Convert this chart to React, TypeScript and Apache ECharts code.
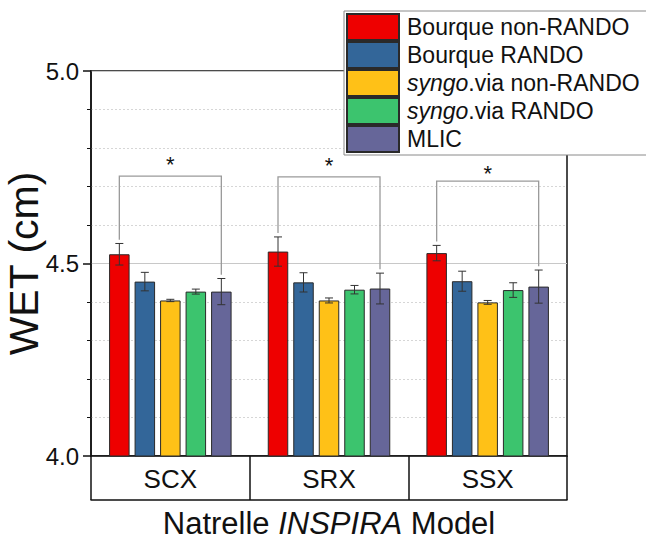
import React, { useEffect, useRef } from "react";
import * as echarts from "echarts";

const categories = ["SCX", "SRX", "SSX"];
const seriesNames = [
  "Bourque non-RANDO",
  "Bourque RANDO",
  "syngo.via non-RANDO",
  "syngo.via RANDO",
  "MLIC",
];
const bourqueNonRando = [4.524, 4.531, 4.527];
const bourqueNonRandoErr = [0.028, 0.038, 0.02];
const bourqueRando = [4.453, 4.451, 4.454];
const bourqueRandoErr = [0.024, 0.025, 0.026];
const syngoNonRando = [4.404, 4.404, 4.399];
const syngoNonRandoErr = [0.003, 0.0065, 0.005];
const syngoRando = [4.427, 4.432, 4.431];
const syngoRandoErr = [0.0065, 0.011, 0.019];
const mlic = [4.427, 4.435, 4.44];
const mlicErr = [0.034, 0.04, 0.043];
const bracketTop = [4.727, 4.725, 4.714];
const starLevel = [4.768, 4.765, 4.743];
const yTicks = [4.0, 4.5, 5.0];

const colors = ["#EE0000", "#336699", "#FFC117", "#3CC46E", "#666699"];
const FONT = "Liberation Sans, Arial, sans-serif";
const BAR_W = 20.5;
const GAP_PX = 5;
const PITCH = BAR_W + GAP_PX;
const LEG_GAP = 0.01;

export default function App() {
  const ref = useRef<HTMLDivElement>(null);
  useEffect(() => {
    if (!ref.current) return;
    const chart = echarts.init(ref.current, null, { renderer: "svg" });
    const values = [bourqueNonRando, bourqueRando, syngoNonRando, syngoRando, mlic];
    const errs = [bourqueNonRandoErr, bourqueRandoErr, syngoNonRandoErr, syngoRandoErr, mlicErr];

    const errData: number[][] = [];
    values.forEach((arr, s) =>
      arr.forEach((v, c) => errData.push([c, v, errs[s][c], s]))
    );
    const bracketData = categories.map((_, c) => [
      c,
      bracketTop[c],
      bourqueNonRando[c] + bourqueNonRandoErr[c] + LEG_GAP,
      mlic[c] + mlicErr[c] + LEG_GAP,
      starLevel[c],
    ]);

    const barSeries = seriesNames.map((name, i) => ({
      name,
      type: "bar",
      data: values[i],
      barWidth: BAR_W,
      barGap: (GAP_PX / BAR_W) * 100 + "%",
      itemStyle: { color: colors[i], borderColor: "#2a2a2a", borderWidth: 1 },
      silent: true,
      z: 2,
    }));

    chart.setOption({
      animation: false,
      backgroundColor: "#ffffff",
      textStyle: { fontFamily: FONT },
      grid: {
        left: 91,
        right: 79,
        top: 71,
        bottom: 85,
        outerBoundsMode: "none",
        containLabel: false,
        show: true,
        borderColor: "#111",
        borderWidth: 1.5,
        backgroundColor: "transparent",
      },
      legend: {
        data: seriesNames,
        orient: "vertical",
        left: 344,
        top: 11,
        padding: [2, 8, 2, 2],
        itemGap: 0,
        itemWidth: 52,
        itemHeight: 26,
        icon: "rect",
        backgroundColor: "#ffffff",
        borderColor: "#8a8a8a",
        borderWidth: 1,
        borderRadius: 0,
        z: 10,
        selectedMode: false,
        formatter: (name: string) =>
          name.startsWith("syngo") ? "{i|syngo}" + name.slice(5) : name,
        textStyle: {
          fontFamily: FONT,
          fontSize: 23,
          color: "#111",
          lineHeight: 26,
          padding: [0, 0, 0, 3],
          rich: {
            i: { fontFamily: FONT, fontSize: 23, fontStyle: "italic", color: "#111", lineHeight: 26 },
          },
        },
      },
      xAxis: [
        {
          type: "category",
          data: categories,
          position: "bottom",
          axisLine: { show: true, lineStyle: { color: "#111", width: 1.5 } },
          axisTick: {
            show: true,
            interval: 0,
            alignWithLabel: false,
            length: 44,
            lineStyle: { color: "#111", width: 1.5 },
          },
          axisLabel: { fontSize: 26, color: "#111", margin: 10, fontFamily: FONT },
          splitLine: { show: false },
          name: "Natrelle {i|INSPIRA} Model",
          nameLocation: "middle",
          nameGap: 52,
          nameMoveOverlap: false,
          nameTextStyle: {
            fontSize: 31,
            color: "#111",
            fontFamily: FONT,
            lineHeight: 30,
            rich: { i: { fontSize: 31, fontStyle: "italic", color: "#111", fontFamily: FONT, lineHeight: 30 } },
          },
        },
        {
          type: "category",
          data: categories,
          position: "bottom",
          offset: 44,
          axisLine: { show: true, lineStyle: { color: "#111", width: 1.5 } },
          axisTick: { show: false },
          axisLabel: { show: false },
          splitLine: { show: false },
        },
      ],
      yAxis: {
        type: "value",
        min: yTicks[0],
        max: yTicks[yTicks.length - 1],
        interval: yTicks[1] - yTicks[0],
        axisLine: { show: true, lineStyle: { color: "#111", width: 1.5 } },
        axisTick: { show: true, length: 8, lineStyle: { color: "#111", width: 1.5 } },
        minorTick: { show: true, splitNumber: 5, length: 4, lineStyle: { color: "#111", width: 1 } },
        axisLabel: {
          fontSize: 24,
          color: "#111",
          margin: 12,
          fontFamily: FONT,
          formatter: (v: number) => v.toFixed(1),
        },
        splitLine: { show: true, lineStyle: { color: "#c8c8c8", width: 1 } },
        minorSplitLine: { show: true, lineStyle: { color: "#d6d6d6", width: 1, type: [2, 2] } },
        name: "WET (cm)",
        nameLocation: "middle",
        nameGap: 47,
        nameRotate: 90,
        nameMoveOverlap: false,
        nameTextStyle: { fontSize: 41, color: "#111", fontFamily: FONT },
      },
      series: [
        ...barSeries,
        {
          type: "custom",
          name: "errors",
          silent: true,
          z: 3,
          encode: { x: 0, y: 1 },
          data: errData,
          renderItem: (_p: any, api: any) => {
            const c = api.value(0);
            const v = api.value(1);
            const e = api.value(2);
            const s = api.value(3);
            const x = api.coord([c, v])[0] + (s - 2) * PITCH;
            const yt = api.coord([c, v + e])[1];
            const yb = api.coord([c, v - e])[1];
            const st = { stroke: "#333", lineWidth: 1 };
            const cw = 4;
            return {
              type: "group",
              children: [
                { type: "line", shape: { x1: x, y1: yt, x2: x, y2: yb }, style: st },
                { type: "line", shape: { x1: x - cw, y1: yt, x2: x + cw, y2: yt }, style: st },
                { type: "line", shape: { x1: x - cw, y1: yb, x2: x + cw, y2: yb }, style: st },
              ],
            };
          },
        },
        {
          type: "custom",
          name: "brackets",
          silent: true,
          z: 3,
          encode: { x: 0, y: 1 },
          data: bracketData,
          renderItem: (_p: any, api: any) => {
            const c = api.value(0);
            const top = api.coord([c, api.value(1)]);
            const yl = api.coord([c, api.value(2)])[1];
            const yr = api.coord([c, api.value(3)])[1];
            const ys = api.coord([c, api.value(4)])[1];
            const cx = top[0];
            const lx = cx - 2 * PITCH;
            const rx = cx + 2 * PITCH;
            return {
              type: "group",
              children: [
                {
                  type: "polyline",
                  shape: { points: [[lx, yl], [lx, top[1]], [rx, top[1]], [rx, yr]] },
                  style: { stroke: "#9a9a9a", lineWidth: 1.3, fill: "none" },
                },
                {
                  type: "text",
                  x: cx,
                  y: ys + 4,
                  style: {
                    text: "*",
                    fontSize: 22,
                    fontFamily: FONT,
                    fill: "#111",
                    align: "center",
                    verticalAlign: "middle",
                  },
                },
              ],
            };
          },
        },
      ],
    });
    return () => chart.dispose();
  }, []);
  return (
    <div
      ref={ref}
      style={{ position: "fixed", left: 0, top: 0, width: 646, height: 541, background: "#fff" }}
    />
  );
}
